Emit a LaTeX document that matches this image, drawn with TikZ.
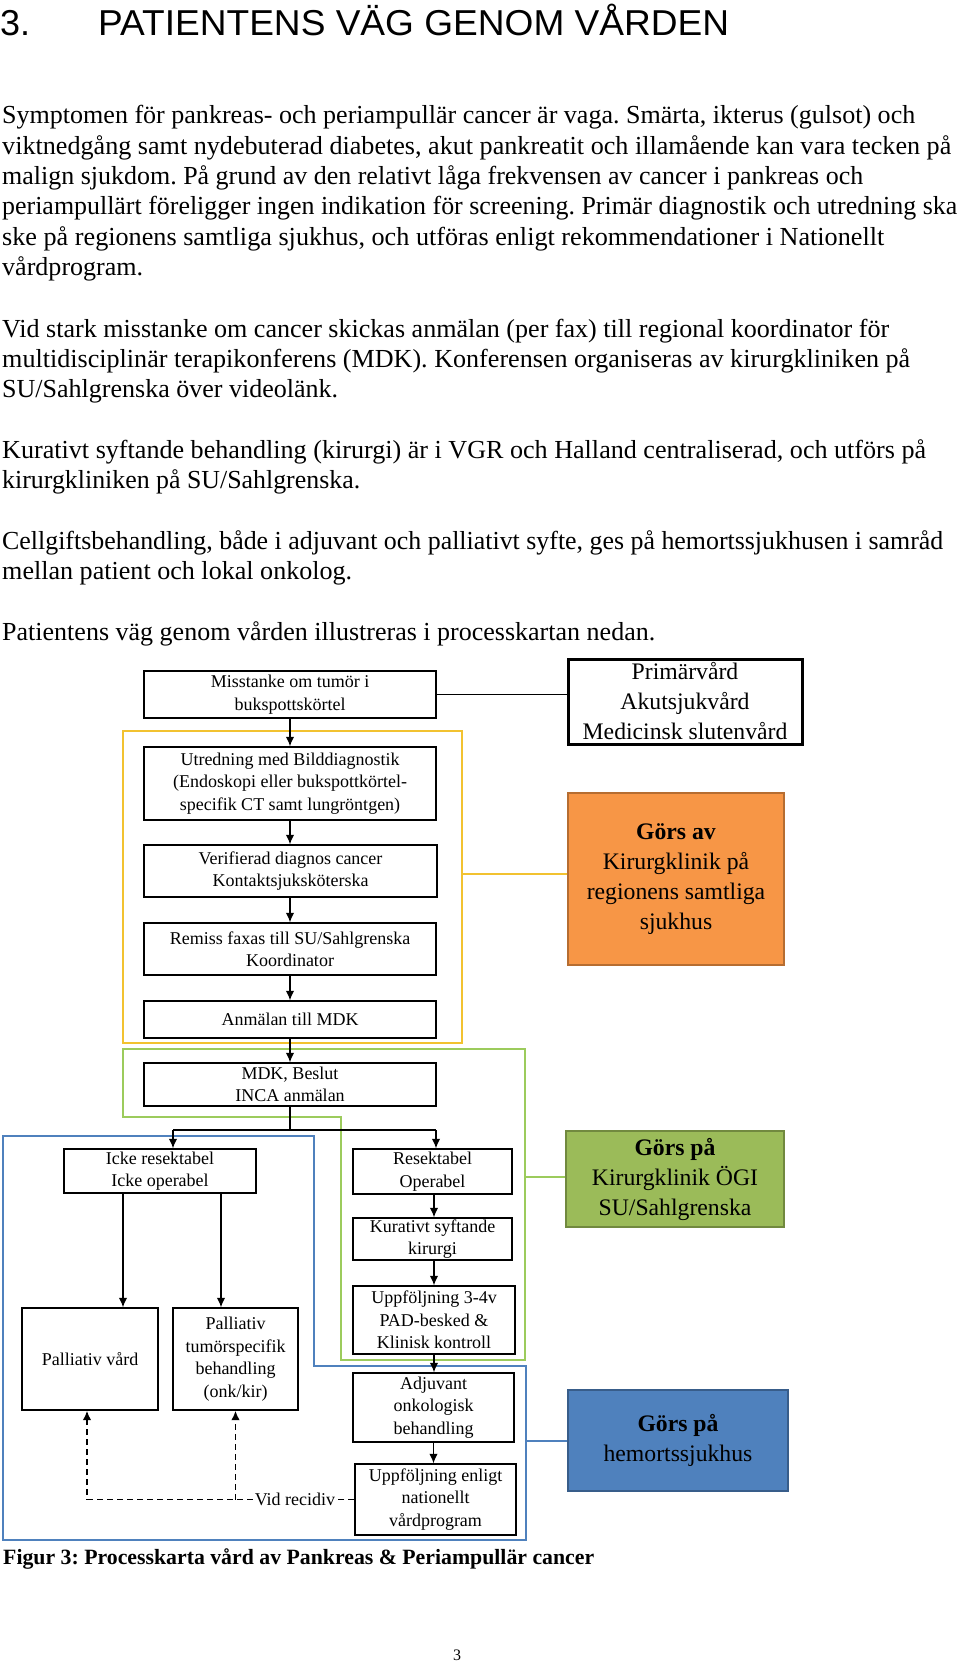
\documentclass[tikz,border=0pt]{standalone}
\usepackage{fontspec}
\usepackage{graphicx}
\setmainfont{Liberation Serif}
\newfontfamily\titlefont{Liberation Sans}
\usetikzlibrary{arrows.meta}
\definecolor{yframe}{HTML}{F2C230}
\definecolor{gframe}{HTML}{9CCB5C}
\definecolor{bframe}{HTML}{4F81BD}
\definecolor{orfill}{HTML}{F79646}
\definecolor{ordraw}{HTML}{B66D31}
\definecolor{grfill}{HTML}{9BBB59}
\definecolor{grdraw}{HTML}{71893F}
\definecolor{blfill}{HTML}{4F81BD}
\definecolor{bldraw}{HTML}{385D8A}
\newcommand{\RW}[2]{\resizebox{#1pt}{\height}{#2}}
\frenchspacing
\begin{document}
\begin{tikzpicture}[x=1pt,y=-1pt,
  box/.style={draw=black, line width=1.4pt, fill=white, align=center, inner sep=0pt, font=\fontsize{18}{22.5}\selectfont},
  bigbox/.style={align=center, inner sep=0pt, line width=2pt, font=\fontsize{23.7}{30}\selectfont},
  arr/.style={line width=1.4pt, -{Latex[length=9.5pt,width=8.5pt]}},
  ln/.style={line width=1.4pt},
  dsh/.style={line width=1.6pt, dash pattern=on 6pt off 4pt},
  body/.style={anchor=base west, inner sep=0pt, font=\fontsize{26}{30}\selectfont},
]
\useasboundingbox[fill=white] (0,0) rectangle (960,1664);

% title
\node[anchor=base west, inner sep=0pt, font=\titlefont\fontsize{36}{40}\selectfont] (tnum) at (0,36) {3.};
\node[anchor=base west, inner sep=0pt, font=\titlefont\fontsize{36}{40}\selectfont] (ttl) at (98,36) {\RW{631}{PATIENTENS VÄG GENOM VÅRDEN}};

% body
\node[body] (t1) at (2,124) {\RW{913}{Symptomen för pankreas- och periampullär cancer är vaga. Smärta, ikterus (gulsot) och}};
\node[body] (t2) at (2,154.3) {\RW{949}{viktnedgång samt nydebuterad diabetes, akut pankreatit och illamående kan vara tecken på}};
\node[body] (t3) at (2,184.6) {\RW{861}{malign sjukdom. På grund av den relativt låga frekvensen av cancer i pankreas och}};
\node[body] (t4) at (2,214.9) {\RW{955}{periampullärt föreligger ingen indikation för screening. Primär diagnostik och utredning ska}};
\node[body] (t5) at (2,245.2) {\RW{882}{ske på regionens samtliga sjukhus, och utföras enligt rekommendationer i Nationellt}};
\node[body] (t6) at (2,275.5) {\RW{141}{vårdprogram.}};
\node[body] (t7) at (2,337) {\RW{887}{Vid stark misstanke om cancer skickas anmälan (per fax) till regional koordinator för}};
\node[body] (t8) at (2,367.3) {\RW{908}{multidisciplinär terapikonferens (MDK). Konferensen organiseras av kirurgkliniken på}};
\node[body] (t9) at (2,397.6) {\RW{336}{SU/Sahlgrenska över videolänk.}};
\node[body] (t10) at (2,458) {\RW{924}{Kurativt syftande behandling (kirurgi) är i VGR och Halland centraliserad, och utförs på}};
\node[body] (t11) at (2,488.3) {\RW{358}{kirurgkliniken på SU/Sahlgrenska.}};
\node[body] (t12) at (2,549) {\RW{941}{Cellgiftsbehandling, både i adjuvant och palliativt syfte, ges på hemortssjukhusen i samråd}};
\node[body] (t13) at (2,579.3) {\RW{350}{mellan patient och lokal onkolog.}};
\node[body] (t14) at (2,640) {\RW{653}{Patientens väg genom vården illustreras i processkartan nedan.}};

% frames
\draw[yframe, line width=2.6pt] (123,731) rectangle (462,1043);
\coordinate (yr) at (462,874);
\draw[gframe, line width=2.4pt] (123,1049) -- (525,1049) -- (525,1360) -- (341,1360) -- (341,1117) -- (123,1117) -- cycle;
\coordinate (gr) at (525,1177);
\draw[bframe, line width=2.4pt] (3,1136) -- (314,1136) -- (314,1366) -- (526,1366) -- (526,1540) -- (3,1540) -- cycle;
\coordinate (br) at (526,1441);

% boxes
\node[box, minimum width=292pt, minimum height=47pt] (miss) at (290,694.5) {Misstanke om tumör i\\bukspottskörtel};
\node[box, minimum width=292pt, minimum height=73pt] (utr) at (290,783.5) {Utredning med Bilddiagnostik\\(Endoskopi eller bukspottkörtel-\\specifik CT samt lungröntgen)};
\node[box, minimum width=293pt, minimum height=52pt] (ver) at (290.5,871) {Verifierad diagnos cancer\\Kontaktsjuksköterska};
\node[box, minimum width=292pt, minimum height=52pt] (rem) at (290,949) {Remiss faxas till SU/Sahlgrenska\\Koordinator};
\node[box, minimum width=292pt, minimum height=37pt] (anm) at (290,1019.5) {Anmälan till MDK};
\node[box, minimum width=292pt, minimum height=43pt] (mdk) at (290,1084.5) {MDK, Beslut\\INCA anmälan};
\node[box, minimum width=192pt, minimum height=44pt] (icke) at (160,1171) {Icke resektabel\\Icke operabel};
\node[box, minimum width=159pt, minimum height=45pt] (res) at (432.5,1171.5) {Resektabel\\Operabel};
\node[box, minimum width=159pt, minimum height=42pt] (kur) at (432.5,1239) {Kurativt syftande\\kirurgi};
\node[box, minimum width=162pt, minimum height=68pt] (upp1) at (434,1320) {Uppföljning 3-4v\\PAD-besked \&\\Klinisk kontroll};
\node[box, minimum width=161pt, minimum height=69pt] (adj) at (433.5,1407.5) {Adjuvant\\onkologisk\\behandling};
\node[box, minimum width=161pt, minimum height=71pt] (upp2) at (435.5,1499.5) {Uppföljning enligt\\nationellt\\vårdprogram};
\node[box, minimum width=136pt, minimum height=102pt] (palv) at (90,1359) {Palliativ vård};
\node[box, minimum width=125pt, minimum height=102pt] (palt) at (235.5,1359) {Palliativ\\tumörspecifik\\behandling\\(onk/kir)};

% right-hand boxes
\node[bigbox, draw=black, line width=3pt, fill=white, minimum width=234pt, minimum height=85pt] (prim) at (685,701.5) {Primärvård\\Akutsjukvård\\Medicinsk slutenvård};
\node[bigbox, draw=ordraw, fill=orfill, minimum width=216pt, minimum height=172pt] (orb) at (676,879) {\textbf{Görs av}\\Kirurgklinik på\\regionens samtliga\\sjukhus};
\node[bigbox, draw=grdraw, fill=grfill, minimum width=218pt, minimum height=96pt] (grb) at (675,1179) {\textbf{Görs på}\\Kirurgklinik ÖGI\\SU/Sahlgrenska};
\node[bigbox, draw=bldraw, fill=blfill, minimum width=220pt, minimum height=101pt] (blb) at (678,1440.5) {\textbf{Görs på}\\hemortssjukhus};

% connectors to right boxes
\draw[ln] (miss.east) -- (miss.east -| prim.west);
\draw[yframe, line width=2.4pt] (yr) -- (yr -| orb.west);
\draw[gframe, line width=2.4pt] (gr) -- (gr -| grb.west);
\draw[bframe, line width=2.4pt] (br) -- (br -| blb.west);

% flow arrows
\draw[arr] (miss.south) -- (utr.north);
\draw[arr] (utr.south) -- (ver.north -| utr.south);
\draw[arr] (ver.south -| utr.south) -- (rem.north);
\draw[arr] (rem.south) -- (anm.north);
\draw[arr] (anm.south) -- (mdk.north);
\coordinate (sl) at (173,1130);
\coordinate (sr) at (436,1130);
\draw[ln] (mdk.south) -- (mdk.south |- sl);
\draw[ln] (sl) -- (sr);
\draw[arr] (sl) -- (sl |- icke.north);
\draw[arr] (sr) -- (sr |- res.north);
\draw[arr] ([xshift=-37pt]icke.south) -- ([xshift=-37pt]icke.south |- palv.north);
\draw[arr] ([xshift=61pt]icke.south) -- ([xshift=61pt]icke.south |- palt.north);
\draw[arr] ([xshift=1.5pt]res.south) -- ([xshift=1.5pt]res.south |- kur.north);
\draw[arr] ([xshift=1.5pt]kur.south) -- ([xshift=1.5pt]kur.south |- upp1.north);
\draw[arr] (upp1.south) -- (upp1.south |- adj.north);
\draw[arr] (adj.south) -- (adj.south |- upp2.north);

% recidiv
\node[inner sep=2pt, font=\fontsize{18}{22}\selectfont] (vr) at (295,1499.5) {Vid recidiv};
\draw[dsh] (upp2.west) -- (vr.east);
\draw[dsh, -{Latex[length=9.5pt,width=8.5pt]}] (vr.west) -| ([xshift=-3pt]palv.south);
\draw[dsh, -{Latex[length=9.5pt,width=8.5pt]}] (palt.south |- vr) -- (palt.south);

% caption and page number
\node[anchor=base west, inner sep=0pt, font=\bfseries\fontsize{21.8}{26}\selectfont] (cap) at (3,1564) {\RW{591}{Figur 3: Processkarta vård av Pankreas \& Periampullär cancer}};
\node[anchor=base, inner sep=0pt, font=\fontsize{16}{18}\selectfont] (pg) at (457,1660) {3};
\end{tikzpicture}
\end{document}
